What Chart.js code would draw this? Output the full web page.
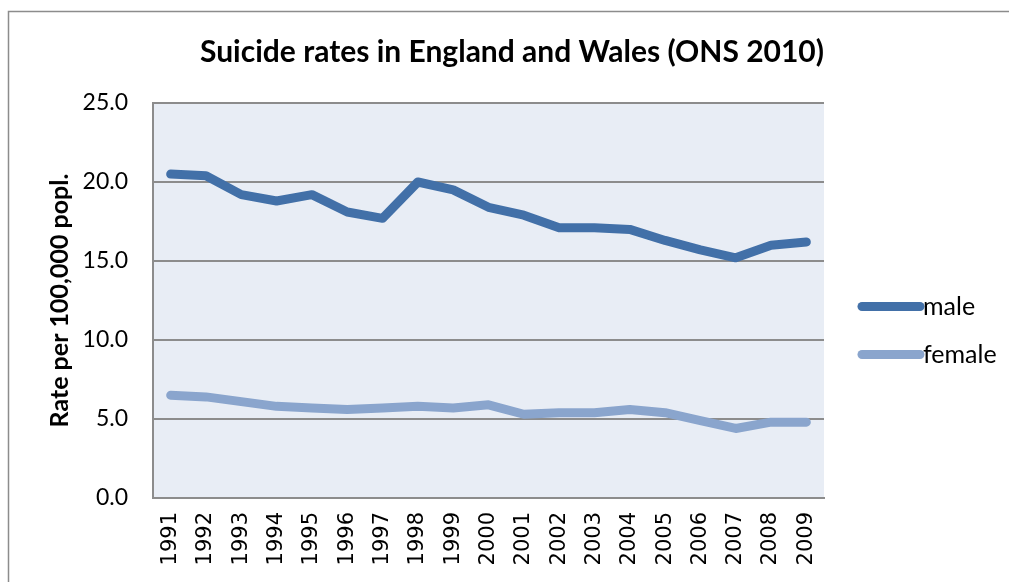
<!DOCTYPE html>
<html>
<head>
<meta charset="utf-8">
<script src="https://cdn.jsdelivr.net/npm/chart.js@4.4.0/dist/chart.umd.min.js"></script>
<style>
  html, body { margin: 0; padding: 0; background: #fff; }
  #wrap { width: 1009px; height: 582px; }
</style>
</head>
<body>
<div id="wrap"><canvas id="suicideChart" width="1009" height="582"></canvas></div>
<script>
// data
var years = ['1991','1992','1993','1994','1995','1996','1997','1998','1999','2000',
             '2001','2002','2003','2004','2005','2006','2007','2008','2009'];
var maleRates   = [20.5, 20.4, 19.2, 18.8, 19.2, 18.1, 17.7, 20.0, 19.5, 18.4,
                   17.9, 17.1, 17.1, 17.0, 16.3, 15.7, 15.2, 16.0, 16.2];
var femaleRates = [6.5, 6.4, 6.1, 5.8, 5.7, 5.6, 5.7, 5.8, 5.7, 5.9,
                   5.3, 5.4, 5.4, 5.6, 5.4, 4.9, 4.4, 4.8, 4.8];
var seriesNames = ['male', 'female'];
var yTicks = [0, 5, 10, 15, 20, 25];

var MALE_COL = '#4270A8';
var FEMALE_COL = '#8AA5CD';

// white page, outer frame and plot background
var framePlugin = {
	id: 'frame',
	beforeDraw: function(chart) {
		var ctx = chart.ctx;
		var a = chart.chartArea;
		ctx.save();
		ctx.fillStyle = '#ffffff';
		ctx.fillRect(0, 0, chart.width, chart.height);
		ctx.strokeStyle = '#8c8c8c';
		ctx.lineWidth = 1.5;
		ctx.strokeRect(8.5, 11.5, chart.width + 20, chart.height + 20);
		ctx.fillStyle = '#E8EDF5';
		ctx.fillRect(a.left, a.top, a.right - a.left, a.bottom - a.top);
		ctx.restore();
	}
};

// legend on the right, line samples like excel
var sideLegend = {
	id: 'sideLegend',
	afterDraw: function(chart) {
		var ctx = chart.ctx;
		var a = chart.chartArea;
		var x0 = a.right + 38;
		var mid = (a.top + a.bottom) / 2;
		ctx.save();
		ctx.font = '25px Lato';
		ctx.textBaseline = 'middle';
		chart.data.datasets.forEach(function(ds, i) {
			var y = mid + 30 + (i - 0.5) * 48;
			ctx.strokeStyle = ds.borderColor;
			ctx.lineWidth = 9;
			ctx.lineCap = 'round';
			ctx.beginPath();
			ctx.moveTo(x0, y);
			ctx.lineTo(x0 + 58, y);
			ctx.stroke();
			ctx.fillStyle = '#000';
			ctx.fillText(ds.label, x0 + 61, y);
		});
		ctx.restore();
	}
};

var ctx = document.getElementById('suicideChart').getContext('2d');
window.myLine = new Chart(ctx, {
	type: 'line',
	data: {
		labels: years,
		datasets: [{
			label: seriesNames[0],
			data: maleRates,
			borderColor: MALE_COL,
			borderWidth: 9,
			pointRadius: 0,
			borderCapStyle: 'round',
			borderJoinStyle: 'round',
			fill: false,
			tension: 0
		}, {
			label: seriesNames[1],
			data: femaleRates,
			borderColor: FEMALE_COL,
			borderWidth: 9,
			pointRadius: 0,
			borderCapStyle: 'round',
			borderJoinStyle: 'round',
			fill: false,
			tension: 0
		}]
	},
	options: {
		responsive: false,
		animation: false,
		layout: { padding: { left: 43, right: 185, top: 0, bottom: 0 } },
		plugins: {
			legend: { display: false },
			tooltip: { enabled: false },
			title: {
				display: true,
				align: 'end',
				text: 'Suicide rates in England and Wales (ONS 2010)',
				color: '#000',
				font: { family: 'Lato', size: 30, weight: 'bold', lineHeight: 1.2 },
				padding: { top: 34, bottom: 33 }
			}
		},
		scales: {
			x: {
				offset: true,
				grid: { display: false, drawTicks: false },
				border: { display: true, color: '#8c8c8c', width: 2 },
				ticks: {
					color: '#000',
					minRotation: 90,
					maxRotation: 90,
					autoSkip: false,
					padding: 14,
					font: { family: 'DejaVu Sans', size: 21 }
				},
				afterFit: function(scale) { scale.height = 84; }
			},
			y: {
				min: 0,
				max: 25,
				afterBuildTicks: function(scale) {
					scale.ticks = yTicks.map(function(v) { return { value: v }; });
				},
				grid: { color: '#8c8c8c', lineWidth: 2, drawTicks: false },
				border: { display: true, color: '#8c8c8c', width: 2 },
				ticks: {
					color: '#000',
					padding: 25,
					font: { family: 'Lato', size: 23 },
					callback: function(v) { return Number(v).toFixed(1); }
				},
				title: {
					display: true,
					text: 'Rate per 100,000 popl.',
					color: '#000',
					font: { family: 'Lato', size: 25, weight: 'bold', lineHeight: 1.2 },
					padding: { top: 2, bottom: 0 }
				},
				afterFit: function(scale) { scale.width = 110; }
			}
		}
	},
	plugins: [framePlugin, sideLegend]
});
</script>
</body>
</html>
